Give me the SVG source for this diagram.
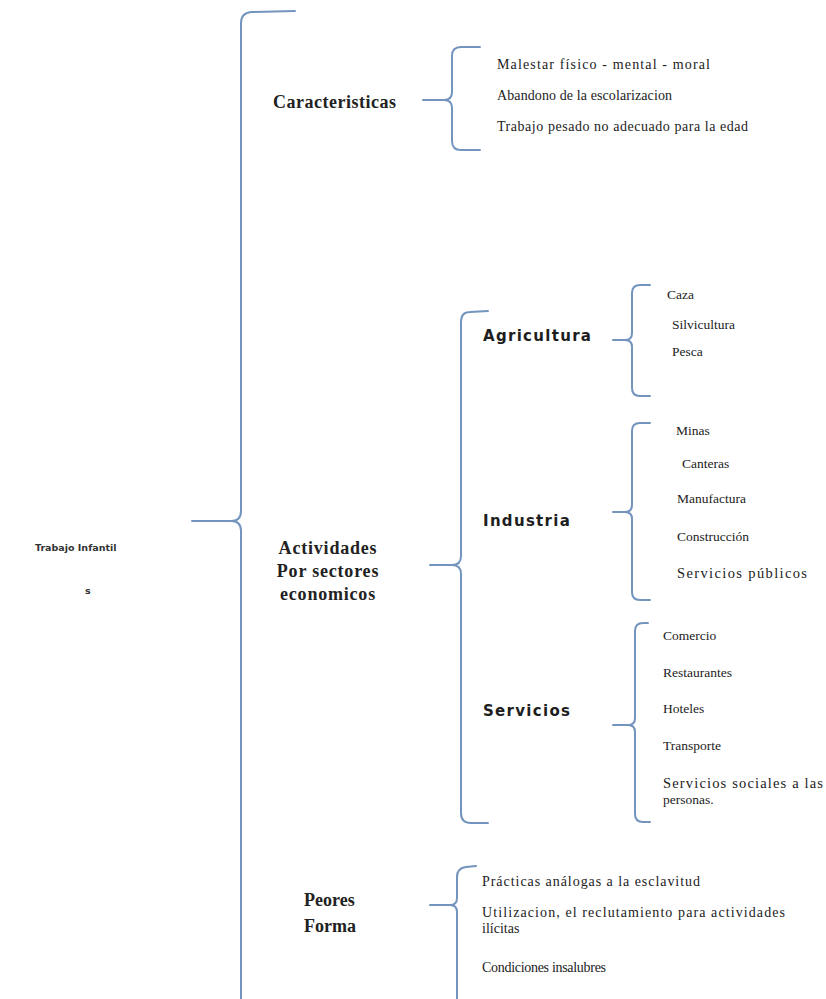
<svg xmlns="http://www.w3.org/2000/svg" width="826" height="999" viewBox="0 0 826 999">
<style>
.br{fill:none;stroke:#7394bd;stroke-width:2;stroke-linecap:round;stroke-linejoin:round}
.h1{font-family:"Liberation Serif","DejaVu Serif",serif;font-weight:bold;font-size:18px;fill:#222}
.h2{font-family:"DejaVu Sans","Liberation Sans",sans-serif;font-weight:bold;font-size:15px;letter-spacing:1.3px;fill:#1e1e1e}
.it{font-family:"Liberation Serif","Times New Roman",serif;font-size:13.5px;fill:#222}
.big{font-size:14px}
.wide{font-size:14.5px}
.root{font-family:"DejaVu Sans","Liberation Sans",sans-serif;font-weight:bold;font-size:9.5px;fill:#333}
</style>
<rect width="826" height="999" fill="#ffffff"/>
<g id="connectors">
<path class="br" d="M295,11 L251,12 Q241,13 241,23 L241,511 Q241,521 231,521 L192,521 M231,521 Q241,521 241,531 L241,1010"/>
<path class="br" d="M480,47 L461,47 Q452,47 452,56 L452,92 Q452,100 444,100 L423,100 M444,100 Q452,100 452,108 L452,141 Q452,150 461,150 L480,150"/>
<path class="br" d="M488,311 L470,312 Q461,312 461,322 L461,556 Q461,565 452,565 L430,565 M452,565 Q461,565 461,574 L461,813 Q461,823 471,823 L488,823"/>
<path class="br" d="M650,285 L640,285 Q632,285 632,293 L632,333 Q632,340 625,340 L613,340 M625,340 Q632,340 632,347 L632,388 Q632,396 640,396 L650,396"/>
<path class="br" d="M650,423 L640,423 Q632,423 632,431 L632,505 Q632,512 625,512 L613,512 M625,512 Q632,512 632,519 L632,592 Q632,600 640,600 L650,600"/>
<path class="br" d="M648,623 L643,623 Q635,623 635,631 L635,718 Q635,725 628,725 L613,725 M628,725 Q635,725 635,732 L635,814 Q635,822 643,822 L650,822"/>
<path class="br" d="M476,866 L466,867 Q457,868 457,877 L457,898 Q457,905 450,905 L430,905 M450,905 Q457,905 457,912 L457,1010"/>
</g>
<g id="root">
<text class="root" x="35" y="551">Trabajo  Infantil</text>
<text class="root" x="85" y="594">s</text>
</g>
<g id="caracteristicas">
<text class="h1" x="273" y="108" letter-spacing="0.5">Caracteristicas</text>
</g>
<g id="caracteristicas-items">
<text class="it big" x="497" y="69" textLength="213">Malestar físico - mental - moral</text>
<text class="it big" x="497" y="100" textLength="175">Abandono de la escolarizacion</text>
<text class="it big" x="497" y="131" textLength="251">Trabajo pesado no adecuado para la edad</text>
</g>
<g id="actividades">
<text class="h1" text-anchor="middle" x="328" y="554" letter-spacing="0.8">Actividades</text>
<text class="h1" text-anchor="middle" x="328" y="577" letter-spacing="0.8">Por sectores</text>
<text class="h1" text-anchor="middle" x="328" y="600" letter-spacing="0.8">economicos</text>
</g>
<g id="agricultura">
<text class="h2" x="483" y="341">Agricultura</text>
<text class="it" x="667" y="299">Caza</text>
<text class="it" x="672" y="329">Silvicultura</text>
<text class="it" x="672" y="356">Pesca</text>
</g>
<g id="industria">
<text class="h2" x="483" y="526">Industria</text>
<text class="it" x="676" y="435">Minas</text>
<text class="it" x="682" y="468">Canteras</text>
<text class="it" x="677" y="503">Manufactura</text>
<text class="it" x="677" y="541">Construcción</text>
<text class="it wide" x="677" y="578" textLength="130">Servicios públicos</text>
</g>
<g id="servicios">
<text class="h2" x="483" y="716">Servicios</text>
<text class="it" x="663" y="640">Comercio</text>
<text class="it" x="663" y="677">Restaurantes</text>
<text class="it" x="663" y="713">Hoteles</text>
<text class="it" x="663" y="750">Transporte</text>
<text class="it wide" x="663" y="788" textLength="160">Servicios sociales a las</text>
<text class="it" x="663" y="804">personas.</text>
</g>
<g id="peores">
<text class="h1" x="304" y="906">Peores</text>
<text class="h1" x="304" y="932">Forma</text>
</g>
<g id="peores-items">
<text class="it big" x="482" y="886" textLength="218">Prácticas análogas a la esclavitud</text>
<text class="it big" x="482" y="917" textLength="303">Utilizacion, el reclutamiento para actividades</text>
<text class="it big" x="482" y="933">ilícitas</text>
<text class="it big" x="482" y="972" textLength="124">Condiciones insalubres</text>
</g>
</svg>
